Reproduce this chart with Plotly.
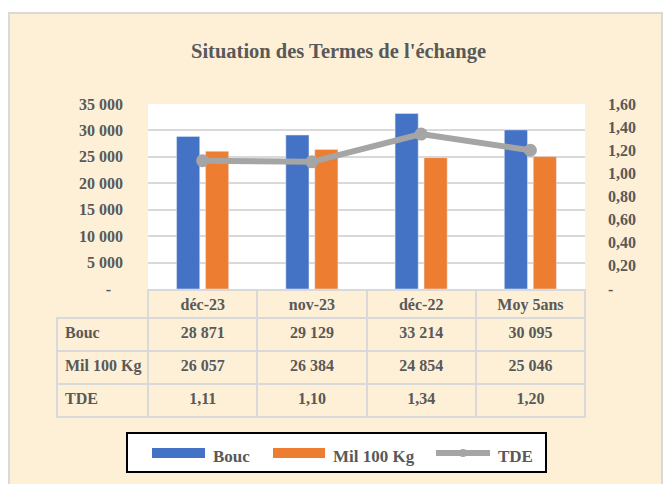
import plotly.graph_objects as go

categories = ["déc-23", "nov-23", "déc-22", "Moy 5ans"]
series_names = ["Bouc", "Mil 100 Kg", "TDE"]
bouc = [28871, 29129, 33214, 30095]
mil = [26057, 26384, 24854, 25046]
tde = [1.11, 1.10, 1.34, 1.20]

left_ticks = [0, 5000, 10000, 15000, 20000, 25000, 30000, 35000]
right_ticks = [0, 0.2, 0.4, 0.6, 0.8, 1.0, 1.2, 1.4, 1.6]

W, H = 665, 484
FONT = "Liberation Serif"
TXT = "#595959"
GRID = "#D9D9D9"
BLUE = "#4472C4"
ORANGE = "#ED7D31"
GRAY = "#A5A5A5"
CREAM = "#FDF0D6"


def px(x):
    return x / W


def py(y):
    return 1 - y / H


def fmt_int(v):
    return f"{v:,}".replace(",", "\u00a0")


def fmt_dec(v):
    return f"{v:.2f}".replace(".", ",")


left_text = ["-\u00a0\u00a0\u00a0"] + [fmt_int(v) for v in left_ticks[1:]]
right_text = ["-"] + [fmt_dec(v) for v in right_ticks[1:]]

fig = go.Figure()
fig.add_trace(go.Bar(x=categories, y=bouc, name=series_names[0], marker_color=BLUE))
fig.add_trace(go.Bar(x=categories, y=mil, name=series_names[1], marker_color=ORANGE))
fig.add_trace(go.Scatter(
    x=categories, y=tde, name=series_names[2], yaxis="y2",
    mode="lines+markers",
    line=dict(color=GRAY, width=6),
    marker=dict(color=GRAY, size=13),
))

# data table under the plot
rows = [[n.replace(" ", "\u00a0") for n in series_names]]
for i in range(len(categories)):
    rows.append([fmt_int(bouc[i]), fmt_int(mil[i]), fmt_dec(tde[i])])

fig.add_trace(go.Table(
    domain=dict(x=[px(57), px(585)], y=[py(421), py(290)]),
    columnwidth=[91, 109, 109, 109, 109],
    header=dict(
        values=[""] + categories,
        height=28,
        align="center",
        fill_color="rgba(0,0,0,0)",
        line=dict(color=["rgba(0,0,0,0)"] + [GRID] * 4, width=2),
        font=dict(family=FONT, size=16, color=TXT, weight="bold"),
    ),
    cells=dict(
        values=rows,
        height=33,
        align=["left"] + ["center"] * 4,
        fill_color="rgba(0,0,0,0)",
        line=dict(color=GRID, width=2),
        font=dict(family=FONT, size=16, color=TXT, weight="bold"),
    ),
))

shapes = [
    # white outside the chart frame
    dict(type="rect", xref="paper", yref="paper", x0=0, x1=1, y0=py(13), y1=1,
         fillcolor="white", line_width=0, layer="above"),
    dict(type="rect", xref="paper", yref="paper", x0=0, x1=px(9), y0=0, y1=1,
         fillcolor="white", line_width=0, layer="above"),
    dict(type="rect", xref="paper", yref="paper", x0=px(662), x1=1, y0=0, y1=1,
         fillcolor="white", line_width=0, layer="above"),
    # frame border
    dict(type="path", xref="paper", yref="paper",
         path=f"M {px(9)},0 L {px(9)},{py(13)} L {px(662)},{py(13)} L {px(662)},0",
         line=dict(color=GRID, width=2), layer="above"),
    # legend box
    dict(type="rect", xref="paper", yref="paper", x0=px(127), x1=px(546),
         y0=py(472), y1=py(433), fillcolor="white",
         line=dict(color="black", width=2), layer="above"),
    dict(type="rect", xref="paper", yref="paper", x0=px(152), x1=px(205),
         y0=py(458), y1=py(448), fillcolor=BLUE, line_width=0, layer="above"),
    dict(type="rect", xref="paper", yref="paper", x0=px(273), x1=px(325),
         y0=py(458), y1=py(448), fillcolor=ORANGE, line_width=0, layer="above"),
    dict(type="line", xref="paper", yref="paper", x0=px(436), x1=px(490),
         y0=py(453), y1=py(453), line=dict(color=GRAY, width=6), layer="above"),
    dict(type="circle", xref="paper", yref="paper", x0=px(459), x1=px(467),
         y0=py(457), y1=py(449), fillcolor=GRAY, line_width=0, layer="above"),
]

legend_font = dict(family=FONT, size=17, color=TXT, weight="bold")
legend_x = [211, 331, 496]
annotations = [
    dict(text="Situation des Termes de l'échange", xref="paper", yref="paper",
         x=px(338), y=py(52), xanchor="center", yanchor="middle", showarrow=False,
         font=dict(family=FONT, size=20.5, color=TXT, weight="bold")),
]
for name, lx in zip(series_names, legend_x):
    annotations.append(dict(
        text=name, xref="paper", yref="paper", x=px(lx), y=py(456),
        xanchor="left", yanchor="middle", showarrow=False, font=legend_font,
    ))

fig.update_layout(
    width=W, height=H,
    margin=dict(l=0, r=0, t=0, b=0, autoexpand=False),
    paper_bgcolor=CREAM,
    plot_bgcolor="white",
    font=dict(family=FONT, size=16, color=TXT, weight="bold"),
    showlegend=False,
    barmode="group",
    bargap=0.47,
    bargroupgap=0.2,
    xaxis=dict(
        domain=[px(148), px(585)],
        showticklabels=False,
        showgrid=False,
        zeroline=False,
        fixedrange=True,
    ),
    yaxis=dict(
        domain=[py(289), py(104)],
        range=[0, 35000],
        tickvals=left_ticks,
        ticktext=left_text,
        gridcolor=GRID,
        gridwidth=2,
        zeroline=False,
        automargin=False,
        ticklabelstandoff=24,
        tickfont=dict(family=FONT, size=16, color=TXT, weight="bold"),
    ),
    yaxis2=dict(
        overlaying="y",
        side="right",
        range=[0, 1.6],
        tickvals=right_ticks,
        ticktext=right_text,
        showgrid=False,
        zeroline=False,
        automargin=False,
        ticklabelstandoff=22,
        tickfont=dict(family=FONT, size=16, color=TXT, weight="bold"),
    ),
    shapes=shapes,
    annotations=annotations,
)

fig.write_html(
    "out.html",
    config={"displayModeBar": False},
    post_script="document.body.style.margin='0';",
)
